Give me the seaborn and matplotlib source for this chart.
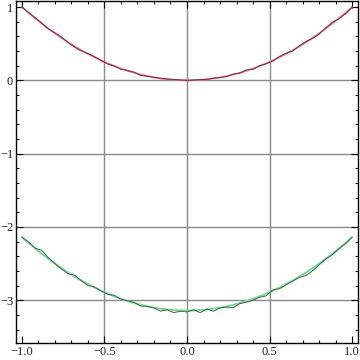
import numpy as np
import pandas as pd
import seaborn as sns
import matplotlib
matplotlib.use("Agg")
import matplotlib.pyplot as plt
from matplotlib.ticker import MultipleLocator

x_vals = [-1.00, -0.96, -0.92, -0.88, -0.84, -0.80, -0.76, -0.72, -0.68, -0.64,
          -0.60, -0.56, -0.52, -0.48, -0.44, -0.40, -0.36, -0.32, -0.28, -0.24,
          -0.20, -0.16, -0.12, -0.08, -0.04, 0.00, 0.04, 0.08, 0.12, 0.16,
          0.20, 0.24, 0.28, 0.32, 0.36, 0.40, 0.44, 0.48, 0.52, 0.56,
          0.60, 0.64, 0.68, 0.72, 0.76, 0.80, 0.84, 0.88, 0.92, 0.96, 1.00]

red_smooth = [1.0000, 0.9216, 0.8464, 0.7744, 0.7056, 0.6400, 0.5776, 0.5184, 0.4624, 0.4096,
              0.3600, 0.3136, 0.2704, 0.2304, 0.1936, 0.1600, 0.1296, 0.1024, 0.0784, 0.0576,
              0.0400, 0.0256, 0.0144, 0.0064, 0.0016, 0.0000, 0.0016, 0.0064, 0.0144, 0.0256,
              0.0400, 0.0576, 0.0784, 0.1024, 0.1296, 0.1600, 0.1936, 0.2304, 0.2704, 0.3136,
              0.3600, 0.4096, 0.4624, 0.5184, 0.5776, 0.6400, 0.7056, 0.7744, 0.8464, 0.9216, 1.0000]

red_noisy = [1.000, 0.925, 0.855, 0.780, 0.700, 0.650, 0.590, 0.515, 0.450, 0.400,
             0.365, 0.325, 0.270, 0.222, 0.195, 0.150, 0.135, 0.112, 0.065, 0.055,
             0.040, 0.028, 0.018, 0.012, 0.005, 0.000, 0.004, 0.010, 0.012, 0.030,
             0.038, 0.050, 0.085, 0.096, 0.142, 0.150, 0.200, 0.225, 0.262, 0.325,
             0.370, 0.400, 0.470, 0.530, 0.570, 0.628, 0.715, 0.790, 0.838, 0.905, 0.995]

green_smooth = [-2.1416, -2.2200, -2.2952, -2.3672, -2.4360, -2.5016, -2.5640, -2.6232, -2.6792, -2.7320,
                -2.7816, -2.8280, -2.8712, -2.9112, -2.9480, -2.9816, -3.0120, -3.0392, -3.0632, -3.0840,
                -3.1016, -3.1160, -3.1272, -3.1352, -3.1400, -3.1416, -3.1400, -3.1352, -3.1272, -3.1160,
                -3.1016, -3.0840, -3.0632, -3.0392, -3.0120, -2.9816, -2.9480, -2.9112, -2.8712, -2.8280,
                -2.7816, -2.7320, -2.6792, -2.6232, -2.5640, -2.5016, -2.4360, -2.3672, -2.2952, -2.2200, -2.1416]

green_noisy = [-2.140, -2.205, -2.290, -2.320, -2.420, -2.500, -2.575, -2.640, -2.660, -2.735,
               -2.800, -2.820, -2.875, -2.920, -2.935, -2.985, -3.010, -3.030, -3.080, -3.085,
               -3.105, -3.150, -3.130, -3.170, -3.150, -3.160, -3.130, -3.170, -3.120, -3.150,
               -3.105, -3.095, -3.100, -3.045, -3.030, -3.000, -2.960, -2.940, -2.860, -2.845,
               -2.790, -2.740, -2.690, -2.665, -2.600, -2.520, -2.440, -2.380, -2.300, -2.230, -2.140]

x_ticks = [-1.0, -0.5, 0.0, 0.5, 1.0]
x_labels = ["\u22121.0", "\u22120.5", "0.0", "0.5", "1.0"]
y_ticks = [1, 0, -1, -2, -3]
y_labels = ["1", "0", "\u22121", "\u22122", "\u22123"]

sns.set_theme(style="white")
plt.rcParams['font.family'] = ['Liberation Serif', 'DejaVu Serif']

fig = plt.figure(figsize=(3.6, 3.6), dpi=100)
ax = fig.add_axes([16/360, 17/360, 342/360, 342/360])

ax.axvline(-0.5, color="#8a8a8a", lw=1.0, zorder=0)
ax.axvline(0.0, color="#8a8a8a", lw=1.0, zorder=0)
ax.axvline(0.5, color="#8a8a8a", lw=1.0, zorder=0)
for yv in [0, -1, -2, -3]:
    ax.axhline(yv, color="#8a8a8a", lw=1.0, zorder=0)

df = pd.DataFrame({"x": x_vals, "rs": red_smooth, "rn": red_noisy,
                   "gs": green_smooth, "gn": green_noisy})

sns.lineplot(data=df, x="x", y="rs", ax=ax, color="#e26c88", lw=1.2, zorder=2)
sns.lineplot(data=df, x="x", y="rn", ax=ax, color="#6e3444", lw=0.7, zorder=3)
sns.lineplot(data=df, x="x", y="gs", ax=ax, color="#72dc90", lw=1.4, zorder=2)
sns.lineplot(data=df, x="x", y="gn", ax=ax, color="#4e5e54", lw=0.7, zorder=3)

ax.set_xlim(-1.036, 1.036)
ax.set_ylim(-3.584, 1.082)
ax.set_xlabel("")
ax.set_ylabel("")

ax.set_xticks(x_ticks)
ax.set_xticklabels(x_labels)
ax.set_yticks(y_ticks)
ax.set_yticklabels(y_labels)
ax.xaxis.set_minor_locator(MultipleLocator(0.1))
ax.yaxis.set_minor_locator(MultipleLocator(0.2))

ax.tick_params(which="both", direction="in", top=True, right=True, bottom=True, left=True,
               color="black", width=0.8)
ax.tick_params(which="major", length=5, labelsize=9, pad=2, labelcolor="#222222")
ax.tick_params(which="minor", length=2.5)
ax.tick_params(axis="x", labeltop=False, labelright=False)
ax.tick_params(axis="y", labelright=False)

for s in ax.spines.values():
    s.set_visible(True)
    s.set_color("black")
    s.set_linewidth(1.0)

fig.savefig("out.png", dpi=100)
